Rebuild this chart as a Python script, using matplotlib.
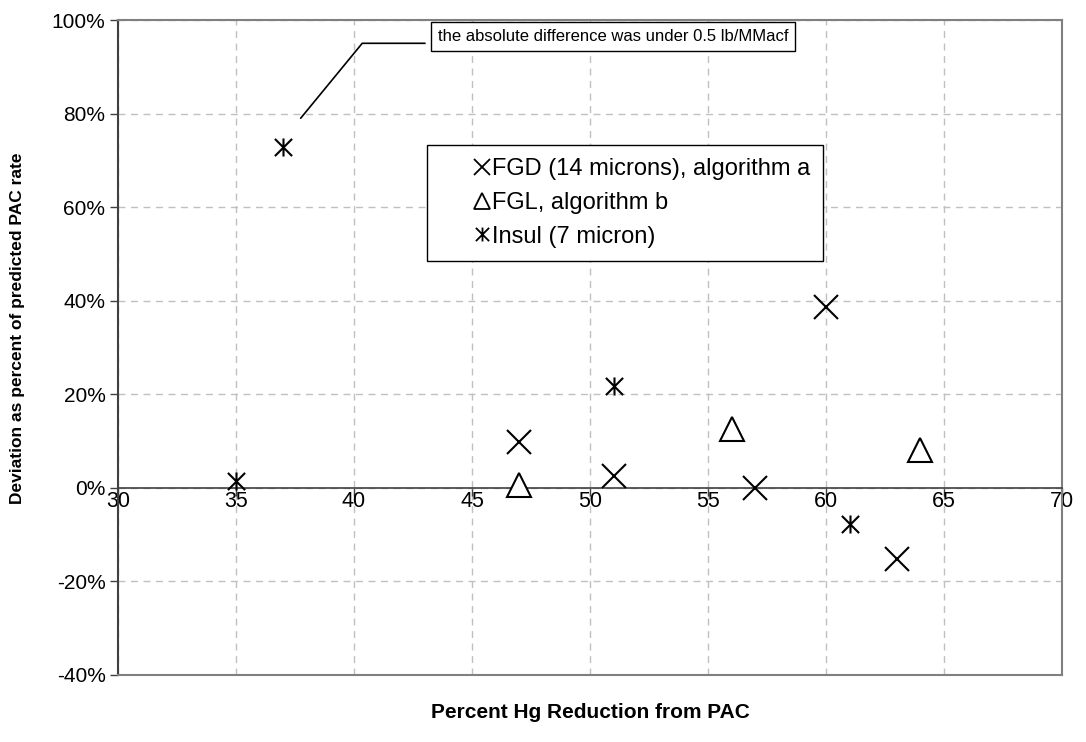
import matplotlib
matplotlib.use("Agg")
import matplotlib.pyplot as plt
from matplotlib.path import Path
from matplotlib.lines import Line2D
from matplotlib.ticker import FuncFormatter

plt.rcParams['font.family'] = ['Liberation Sans', 'DejaVu Sans']

# Percent Hg reduction (x) and deviation from predicted PAC rate in % (y)
fgd_x = [47, 51, 57, 60, 63]
fgd_y = [9.8, 2.6, 0.0, 38.6, -15.2]
fgl_x = [47, 56, 64]
fgl_y = [0.6, 12.5, 8.0]
insul_x = [35, 37, 51, 61]
insul_y = [1.4, 72.9, 21.7, -7.7]

series_labels = ["FGD (14 microns), algorithm a", "FGL, algorithm b", "Insul (7 micron)"]
x_ticks = [30, 35, 40, 45, 50, 55, 60, 65, 70]
y_ticks = [-40, -20, 0, 20, 40, 60, 80, 100]
note_text = "the absolute difference was under 0.5 lb/MMacf"

# asterisk: an X crossed by a vertical bar
star = Path([(-1, -1), (1, 1), (-1, 1), (1, -1), (0, -1.05), (0, 1.05)],
            [Path.MOVETO, Path.LINETO, Path.MOVETO, Path.LINETO, Path.MOVETO, Path.LINETO])

W, H = 1086, 742
fig = plt.figure(figsize=(W / 100, H / 100), dpi=100)
ax = fig.add_axes([118 / W, 1 - 675 / H, (1062 - 118) / W, (675 - 20) / H])

ax.set_xlim(30, 70)
ax.set_ylim(-40, 100)
ax.set_xticks(x_ticks)
ax.set_yticks(y_ticks)
ax.yaxis.set_major_formatter(FuncFormatter(lambda v, p: f"{v:.0f}%"))

ax.grid(True, color='#c0c0c0', linestyle=(0, (5, 4)), linewidth=1.0)
ax.set_axisbelow(True)

ax.plot(fgd_x, fgd_y, linestyle='none', marker='x', markersize=17, markeredgewidth=1.5,
        color='black', zorder=3)
ax.plot(fgl_x, fgl_y, linestyle='none', marker='^', markersize=17, markeredgewidth=1.5,
        markerfacecolor='white', markeredgecolor='black', zorder=3)
ax.plot(insul_x, insul_y, linestyle='none', marker=star, markersize=13, markeredgewidth=1.5,
        color='black', zorder=3)

# frame and axis lines
for s in ['top', 'right']:
    ax.spines[s].set_color('#808080')
    ax.spines[s].set_linewidth(1.5)
ax.spines['left'].set_color('#404040')
ax.spines['left'].set_linewidth(1.5)
ax.spines['bottom'].set_position(('data', 0))
ax.spines['bottom'].set_color('#404040')
ax.spines['bottom'].set_linewidth(1.2)
ax.axhline(-40, color='#808080', linewidth=1.5, clip_on=False, zorder=4)

ax.tick_params(axis='y', direction='out', length=6, width=1, color='#404040',
               labelsize=15, pad=3)
ax.tick_params(axis='x', direction='out', length=6, width=1, color='#404040',
               labelsize=15.5, pad=-4)

fig.text(18 / W, 1 - 328 / H, "Deviation as percent of predicted PAC rate", fontsize=12.5,
         fontweight='bold', rotation=90, ha='center', va='center')
fig.text(590 / W, 1 - 713 / H, "Percent Hg Reduction from PAC", fontsize=15,
         fontweight='bold', ha='center', va='center')

# legend
handles = [
    Line2D([], [], linestyle='none', marker='x', markersize=11, markeredgewidth=1.3, color='black'),
    Line2D([], [], linestyle='none', marker='^', markersize=11, markeredgewidth=1.3,
           markerfacecolor='white', markeredgecolor='black'),
    Line2D([], [], linestyle='none', marker=star, markersize=10, markeredgewidth=1.3, color='black'),
]
leg = ax.legend(handles, series_labels, loc='upper left',
                bbox_to_anchor=((427 - 118) / 944, 1 - (145 - 20) / 655),
                fontsize=17, frameon=True, fancybox=False, edgecolor='black',
                handlelength=3.6, handletextpad=-1.4, borderpad=0.55, labelspacing=0.5,
                borderaxespad=0)
leg.get_frame().set_linewidth(1.0)
leg.get_frame().set_alpha(1)

# callout note with leader line
fig.text(438 / W, 1 - 36.5 / H, note_text, fontsize=12, ha='left', va='center',
         bbox=dict(boxstyle='square,pad=0.4', facecolor='white', edgecolor='black', linewidth=1))
ax.annotate('', xy=(37.74, 79.0), xycoords='data',
            xytext=(425 / W, 1 - 43.3 / H), textcoords='figure fraction',
            arrowprops=dict(arrowstyle='-', color='black', linewidth=1.2,
                            connectionstyle='angle,angleA=180,angleB=50.6,rad=0',
                            shrinkA=0, shrinkB=0))

fig.savefig("out.png", dpi=100)
